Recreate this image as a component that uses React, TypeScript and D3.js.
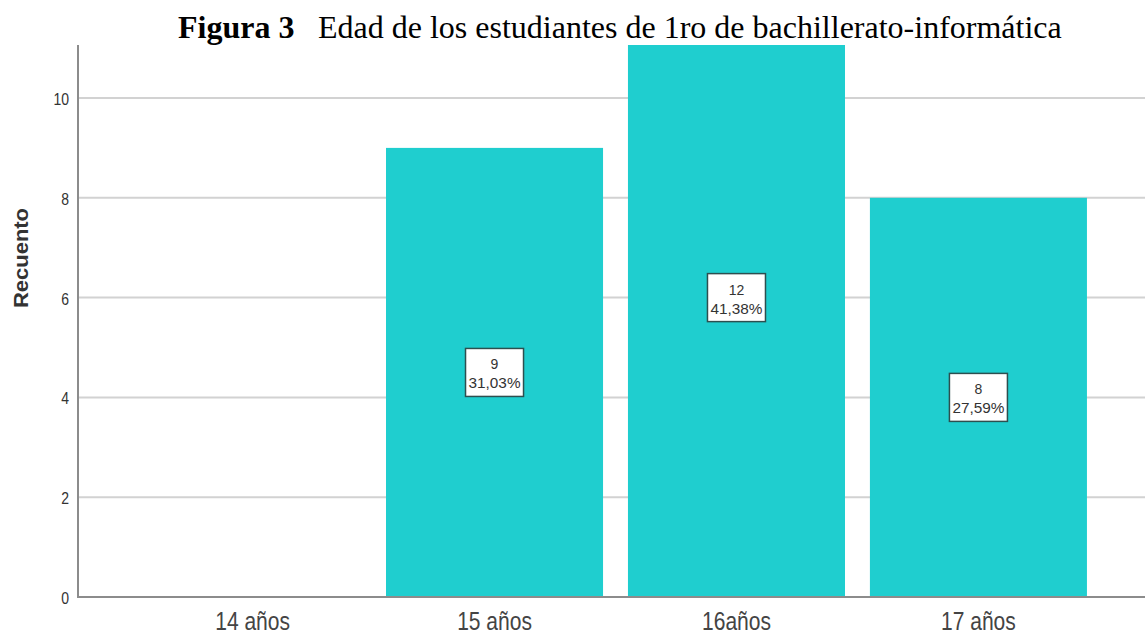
import * as d3 from "d3";
import {useEffect} from "react";

const categories = ["14 años", "15 años", "16años", "17 años"];
const counts = [0, 9, 12, 8];
const percents = ["", "31,03%", "41,38%", "27,59%"];
const yTicks = [0, 2, 4, 6, 8, 10];

const W = 1145, H = 637;

const App = () => {
    useEffect(() => {
        document.body.style.margin = "0";
    }, []);

    // plot area (top is cut off just under the title, like the original)
    const x = d3.scaleBand()
        .domain(categories)
        .range([78, 1153])
        .paddingInner(0.103)
        .paddingOuter(0.273);

    const y = d3.scaleLinear()
        .domain([0, 10])
        .range([597, 98]);

    const top = 45;
    const barColor = "#1fcecf";
    const sans = "Liberation Sans, Arial, sans-serif";

    return (
        <svg width={W} height={H} style={{display: "block", background: "#fff"}}>
            <defs>
                <clipPath id="plotclip">
                    <rect x={78} y={top} width={W - 78} height={597 - top}/>
                </clipPath>
            </defs>

            {/* grid */}
            {yTicks.filter(t => t > 0).map(t => (
                <line key={t} x1={78} x2={W} y1={y(t)} y2={y(t)} stroke="#d2d2d2" strokeWidth={2}/>
            ))}

            {/* bars */}
            <g clipPath="url(#plotclip)">
                {categories.map((c, i) => counts[i] > 0 && (
                    <rect key={c} x={x(c)} y={y(counts[i])} width={x.bandwidth()}
                          height={y(0) - y(counts[i])} fill={barColor}/>
                ))}
            </g>

            {/* axes */}
            <line x1={78} x2={78} y1={top} y2={598} stroke="#8c8c8c" strokeWidth={2}/>
            <line x1={77} x2={W} y1={597} y2={597} stroke="#8c8c8c" strokeWidth={2}/>

            {yTicks.map(t => (
                <text key={t} x={0} y={0} textAnchor="end" dominantBaseline="central"
                      fontFamily={sans} fontSize={14} fill="#333"
                      transform={`translate(69, ${y(t) + 1}) scale(1, 1.2)`}>{t}</text>
            ))}

            {categories.map(c => {
                const cx = x(c) + x.bandwidth() / 2;
                return (
                    <text key={c} x={cx} y={0} textAnchor="middle"
                          fontFamily={sans} fontSize={21} fill="#444"
                          transform={`translate(0, 630) scale(1, 1.25)`}>{c}</text>
                );
            })}

            <text transform="translate(28, 258) rotate(-90)" textAnchor="middle"
                  fontFamily={sans} fontWeight="bold" fontSize={20} fill="#333"
                  textLength={100} lengthAdjust="spacingAndGlyphs">
                Recuento
            </text>

            {/* data labels */}
            {categories.map((c, i) => {
                if (counts[i] === 0) return null;
                const cx = x(c) + x.bandwidth() / 2;
                const cy = y(counts[i] / 2);
                return (
                    <g key={c}>
                        <rect x={cx - 29} y={cy - 24} width={58} height={48} fill="#fff"
                              stroke="#2d4f4f" strokeWidth={1.5}/>
                        <text x={cx} y={cy - 3} textAnchor="middle" fontFamily={sans}
                              fontSize={14} fill="#333">{counts[i]}</text>
                        <text x={cx} y={cy + 16} textAnchor="middle" fontFamily={sans}
                              fontSize={14} fill="#333" textLength={52}
                              lengthAdjust="spacingAndGlyphs">{percents[i]}</text>
                    </g>
                );
            })}

            {/* title */}
            <rect x={0} y={0} width={W} height={top} fill="#fff"/>
            <text y={38} fontFamily="Liberation Serif, Times New Roman, serif" fontSize={32} fill="#000">
                <tspan x={178} fontWeight="bold">Figura 3</tspan>
                <tspan x={318}>Edad de los estudiantes de 1ro de bachillerato-informática</tspan>
            </text>
        </svg>
    );
};

export default App;
